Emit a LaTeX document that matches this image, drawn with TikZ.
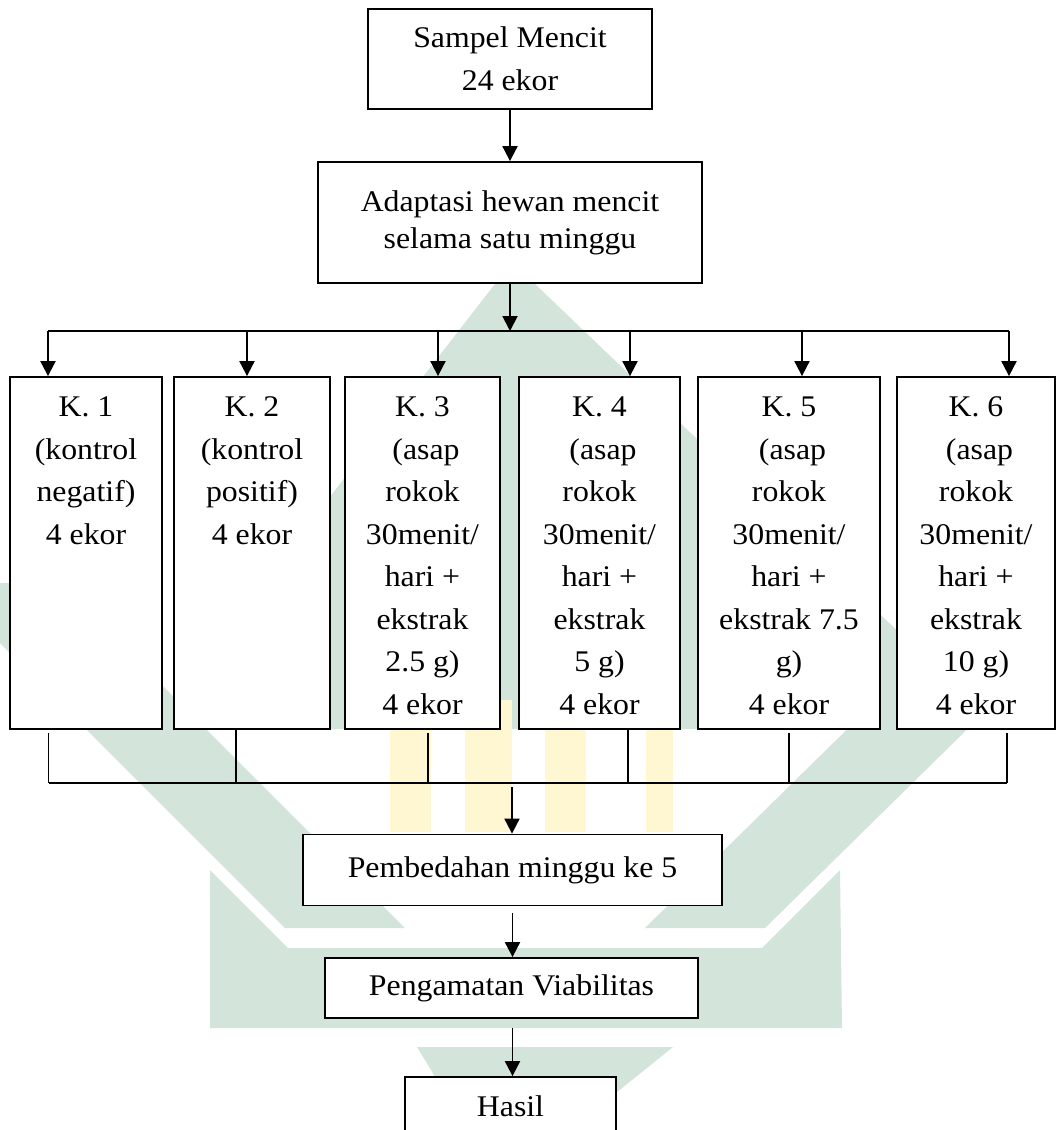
\documentclass[tikz,border=0pt]{standalone}
\usepackage{fontspec}
\setmainfont{Liberation Serif}[FakeStretch=1.06]
\usetikzlibrary{arrows.meta}
\definecolor{wmgreen}{HTML}{D3E4DA}
\definecolor{wmyellow}{HTML}{FFF6D2}

\begin{document}
\begin{tikzpicture}[x=1pt,y=-1pt,
  box/.style={draw=black, line width=1.8pt, fill=white, rectangle, inner sep=0pt,
              align=center, font=\fontsize{30}{43}\selectfont},
  kbox/.style={draw=black, line width=1.8pt, fill=white, rectangle, inner sep=0pt,
              minimum height=352pt},
  ktext/.style={inner sep=0pt, anchor=north, align=center,
              font=\fontsize{30}{42.5}\selectfont},
  arr/.style={line width=1.9pt, -{Triangle[length=15pt,width=15pt]}},
  ln/.style={line width=1.9pt},
  stub/.style={line width=1.3pt},
  wm/.style={fill=wmgreen, draw=none},
  wmy/.style={fill=wmyellow, draw=none}]

\useasboundingbox (0,0) rectangle (1056,1130);
\clip (0,0) rectangle (1056,1130);
\fill[white] (0,0) rectangle (1056,1130);

% ---- watermark (faint logo in the background) ----
\fill[wm] (512,262) -- (1000,729) -- (150,729) -- cycle;
\fill[wm] (-60,583) -- (60,583) -- (405,928) -- (285,928) -- cycle;
\fill[wm] (1116,583) -- (996,583) -- (645,928) -- (765,928) -- cycle;
\fill[wm] (210,870) -- (288,948) -- (762,948) -- (840,870) -- (842,1028) -- (210,1028) -- cycle;
\fill[wm] (417,1047) -- (673,1047) -- (545,1150) -- (480,1150) -- cycle;
\fill[wmy] (390,700) rectangle (431,832);
\fill[wmy] (465,700) rectangle (512,832);
\fill[wmy] (545,700) rectangle (586,832);
\fill[wmy] (646,700) rectangle (673,832);

% ---- top ----
\node[box, minimum width=284pt, minimum height=100pt] (sampel) at (510,59)
  {Sampel Mencit\\24 ekor};
\node[box, minimum width=384pt, minimum height=121pt,
      font=\fontsize{30}{37}\selectfont] (adapt) at (510,222.5)
  {Adaptasi hewan mencit\\selama satu minggu};
\draw[arr] (sampel.south) -- (adapt.north);

% ---- group boxes ----
\node[kbox, minimum width=152pt] (k1) at (86,553) {};
\node[kbox, minimum width=156pt] (k2) at (252,553) {};
\node[kbox, minimum width=155pt] (k3) at (422.5,553) {};
\node[kbox, minimum width=161pt] (k4) at (599.5,553) {};
\node[kbox, minimum width=182pt] (k5) at (789,553) {};
\node[kbox, minimum width=158pt] (k6) at (976,553) {};

\node[ktext] (k1t) at ([yshift=-20.7pt]k1.north) {K. 1\\(kontrol\\negatif)\\4 ekor};
\node[ktext] (k2t) at ([yshift=-20.7pt]k2.north) {K. 2\\(kontrol\\positif)\\4 ekor};
\node[ktext] (k3t) at ([yshift=-20.7pt]k3.north)
  {K. 3\\\hspace*{7pt}(asap\\rokok\\30menit/\\hari +\\ekstrak\\2.5 g)\\4 ekor};
\node[ktext] (k4t) at ([yshift=-20.7pt]k4.north)
  {K. 4\\\hspace*{7pt}(asap\\rokok\\30menit/\\hari +\\ekstrak\\5 g)\\4 ekor};
\node[ktext] (k5t) at ([yshift=-20.7pt]k5.north)
  {K. 5\\\hspace*{7pt}(asap\\rokok\\30menit/\\hari +\\ekstrak 7.5\\g)\\4 ekor};
\node[ktext] (k6t) at ([yshift=-20.7pt]k6.north)
  {K. 6\\\hspace*{7pt}(asap\\rokok\\30menit/\\hari +\\ekstrak\\10 g)\\4 ekor};

% ---- branch line ----
\coordinate (a1) at (48,331);
\coordinate (a2) at (247,331);
\coordinate (a3) at (438,331);
\coordinate (a4) at (630,331);
\coordinate (a5) at (802,331);
\coordinate (a6) at (1009,331);
\draw[ln] (a1) -- (a6);
\draw[arr] (adapt.south) -- (adapt.south |- a1);
\draw[arr] (a1) -- (a1 |- k1.north);
\draw[arr] (a2) -- (a2 |- k2.north);
\draw[arr] (a3) -- (a3 |- k3.north);
\draw[arr] (a4) -- (a4 |- k4.north);
\draw[arr] (a5) -- (a5 |- k5.north);
\draw[arr] (a6) -- (a6 |- k6.north);

% ---- merge line ----
\coordinate (s1) at (48.5,733);  \coordinate (m1) at (48.5,783);
\coordinate (s2) at (236,730);   \coordinate (m2) at (236,783);
\coordinate (s3) at (428,733);   \coordinate (m3) at (428,783);
\coordinate (s4) at (628,730);   \coordinate (m4) at (628,783);
\coordinate (s5) at (789,733);   \coordinate (m5) at (789,783);
\coordinate (s6) at (1007,733);  \coordinate (m6) at (1007,783);
\draw[stub] (s1) -- (m1);
\draw[stub] (s2) -- (m2);
\draw[stub] (s3) -- (m3);
\draw[stub] (s4) -- (m4);
\draw[stub] (s5) -- (m5);
\draw[stub] (s6) -- (m6);
\draw[ln] (m1) -- (m6);

% ---- lower chain ----
\node[box, minimum width=419pt, minimum height=71pt] (pemb) at (512.5,870)
  {Pembedahan minggu ke 5};
\node[box, minimum width=373pt, minimum height=60pt] (peng) at (511.5,988)
  {Pengamatan Viabilitas};
\node[box, minimum width=211pt, minimum height=59pt] (hasil) at (510.5,1106.5)
  {Hasil};
\coordinate (mc) at (512,787);
\draw[arr] (mc) -- (mc |- pemb.north);
\draw[arr] ([yshift=-7pt]pemb.south) -- (pemb.south |- peng.north);
\draw[arr] ([yshift=-9pt]peng.south -| pemb.south) -- (pemb.south |- hasil.north);
\end{tikzpicture}
\end{document}
